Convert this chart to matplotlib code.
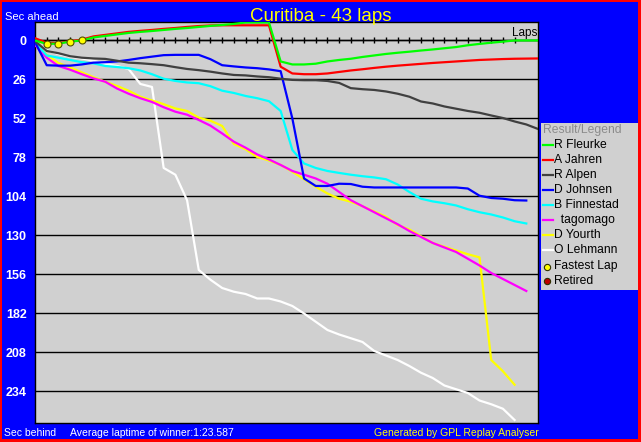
import matplotlib.pyplot as plt
import numpy as np
from matplotlib.lines import Line2D
from matplotlib.patches import Rectangle
from matplotlib import transforms

plt.rcParams['font.family'] = ['Liberation Sans', 'DejaVu Sans']

W, H = 641, 442

# ---- data (seconds behind the leader reference, per lap) ----
title = 'Curitiba - 43 laps'
drivers = ['R Fleurke', 'A Jahren', 'R Alpen', 'D Johnsen', 'B Finnestad',
           '  tagomago', 'D Yourth', 'O Lehmann']
colors = ['#00ff00', '#ff0000', '#404040', '#0000ff', '#00ffff',
          '#ff00ff', '#ffff00', '#ffffff']

fleurke = [0, 2.3, 2.1, 0.8, 0, -2, -3, -4, -5, -5.7, -6.3, -7, -7.7, -8.3, -9,
           -9.7, -10.3, -11, -12, -12, -12, 14, 16, 16, 15.5, 14, 13, 12.2, 11,
           10, 9, 8.2, 7.5, 6.7, 6, 5.2, 4.4, 3.2, 2.3, 1.5, 0.8, 0, 0, 0]
jahren = [-1.5, 1.5, 1.8, 0.5, -0.5, -2.7, -3.7, -4.7, -5.7, -6.4, -7, -7.7,
          -8.3, -9, -9.6, -10, -10.1, -10.1, -10.1, -10.1, -10.1, 17.5, 22, 22.5,
          22.5, 22, 21, 20, 19.2, 18.3, 17.5, 16.8, 16.2, 15.6, 15, 14.5, 14,
          13.5, 13, 12.7, 12.4, 12.2, 12.1, 12]
alpen = [0.5, 7, 8.5, 10.5, 11.5, 12, 12.3, 13.5, 14.8, 15.2, 15.8, 16.5, 17.8,
         19, 19.8, 20.8, 22, 23, 23.3, 24, 24.5, 25.5, 26.3, 26.5, 26.5, 27,
         28.3, 31.8, 32.5, 33, 34, 35.5, 37.5, 40.7, 42, 44, 45.5, 47, 48.2, 50,
         51.7, 54, 56, 59]
johnsen = [1, 16.5, 16.8, 16.8, 16, 14.8, 14.5, 14, 13, 11.8, 10.8, 9.8, 9.6,
           9.6, 9.6, 12.5, 16.5, 17.3, 18, 18.5, 19.3, 20.5, 52, 92, 97, 97,
           95.5, 95.7, 97.5, 98, 98, 98, 98, 98, 98, 98, 98, 98.7, 103.5, 105,
           105.5, 106.5, 106.7]
finnestad = [1.5, 10, 11.5, 13, 14.5, 15.3, 17, 17.7, 18.5, 20, 22.5, 25.5, 27,
             28, 28.5, 30.5, 33.5, 35, 37, 38.5, 40.5, 47, 73, 82, 85, 87, 88.3,
             89.5, 90.5, 91.3, 92.5, 96, 101, 105.5, 107.3, 108.5, 110, 112.5,
             114.5, 116, 118, 120.5, 122]
tagomago = [3, 11.5, 17, 19.5, 22.5, 25.3, 27.5, 32, 35.5, 38.5, 41, 44.5, 47.5,
            49.5, 53, 56.8, 62, 67.5, 71.5, 76, 79.3, 83, 87, 89.5, 92, 95.5,
            101, 106.5, 110.5, 114.5, 118.5, 122.5, 127, 131, 135, 138, 141,
            145.5, 150, 155, 159, 163, 167]
yourth = [2.5, 9.5, 15, 18, 21.3, 24.5, 27.5, 30.3, 33.5, 37.5, 40, 42.5, 45.3,
          47, 51.5, 53.5, 57, 69, 72.5, 77.7, 80, 83, 87.5, 92.5, 97.5, 102,
          105.5, 107.5, 110.5, 114, 117.5, 123, 126, 130.5, 135, 137.5, 140,
          142.5, 144.6, 213, 220.5, 229.5]
lehmann = [2, 6.5, 9, 10.8, 12, 13.5, 15.7, 17, 19, 29, 31, 85, 89.5, 106.5, 153,
           159.5, 165, 167.5, 169, 172, 172, 174, 177, 182, 187.5, 193, 196,
           198.5, 201, 207, 210, 213, 217, 221.5, 225, 230, 232.5, 235, 240,
           242.5, 245.5, 253]
series = [fleurke, jahren, alpen, johnsen, finnestad, tagomago, yourth, lehmann]

fastest_laps = [1, 2, 3, 4]
tick_laps = list(range(1, 42))
y_ticks = list(range(0, 235, 26))
total_laps = 43

# ---- figure ----
fig = plt.figure(figsize=(W / 100, H / 100), dpi=100, facecolor='#ff0000')
fig.add_artist(Rectangle((2 / W, 3 / H), 636 / W, 437 / H, transform=fig.transFigure,
                         facecolor='#0000ff', edgecolor='none', zorder=-5))

ax = fig.add_axes([35 / W, 19 / H, 503 / W, 401 / H])
ax.set_facecolor('#d0d0d0')

for name, color, vals in reversed(list(zip(drivers, colors, series))):
    ax.plot(np.arange(len(vals)), vals, color=color, lw=1.6, zorder=3)

ax.axhline(0, color='black', lw=1, zorder=2)
ax.plot(tick_laps, np.zeros(len(tick_laps)), linestyle='none', marker='|',
        ms=4.5, mew=1, color='black', zorder=2)
ax.plot(fastest_laps, [fleurke[l] for l in fastest_laps], linestyle='none',
        marker='o', ms=5, mfc='#ffff00', mec='#505000', mew=0.8, zorder=5)

ax.set_xlim(0, total_laps)
ax.set_ylim(255, -12.3)
ax.set_xticks([])
ax.set_yticks(y_ticks)
ax.set_yticklabels([str(v) for v in y_ticks], fontweight='bold')
ax.tick_params(axis='y', length=0, pad=6, labelcolor='white', labelsize=9)
ax.yaxis.grid(True, color='black', lw=1)
ax.set_axisbelow(True)
for sp in ax.spines.values():
    sp.set_color('black')
    sp.set_linewidth(1)

trans = transforms.blended_transform_factory(ax.transAxes, ax.transData)
ax.text(0.998, -3, 'Laps', transform=trans, ha='right', va='baseline',
        fontsize=8.5, color='black', zorder=6)

# ---- texts around the plot ----
fig.text(0.5, 1 - 21 / H, title, ha='center', va='baseline', color='#ffff00', fontsize=13.5)
fig.text(5 / W, 1 - 19.5 / H, 'Sec ahead', va='baseline', color='white', fontsize=8)
fig.text(4 / W, 1 - 436 / H, 'Sec behind', va='baseline', color='white', fontsize=7.5)
fig.text(70 / W, 1 - 436 / H, 'Average laptime of winner:1:23.587', va='baseline',
         color='white', fontsize=7.5)
fig.text(539 / W, 1 - 436 / H, 'Generated by GPL Replay Analyser', ha='right',
         va='baseline', color='#ffff00', fontsize=7.5)

# ---- legend panel ----
fig.add_artist(Rectangle((541 / W, 1 - 290 / H), 97 / W, 167 / H, transform=fig.transFigure,
                         facecolor='#d0d0d0', edgecolor='none', zorder=-1))
fig.text(543 / W, 1 - 130 / H, 'Result/Legend', va='center', color='#8c8c8c', fontsize=8.7)
for i, (name, color) in enumerate(zip(drivers, colors)):
    y = 1 - (145 + 15 * i) / H
    fig.add_artist(Line2D([543 / W, 553 / W], [y, y], color=color, lw=1.6,
                          transform=fig.transFigure))
    fig.text(554 / W, y, name, va='center', color='black', fontsize=8.7)
for y_px, label, face in [(266.5, 'Fastest Lap', '#ffff00'), (281, 'Retired', '#c00000')]:
    y = 1 - y_px / H
    fig.add_artist(Line2D([547 / W], [y], marker='o', ms=4.5, mfc=face, mec='#303000',
                          mew=0.8, linestyle='none', transform=fig.transFigure))
    fig.text(554 / W, y, label, va='center', color='black', fontsize=8.7)

fig.savefig('out.png', dpi=100, facecolor=fig.get_facecolor())
